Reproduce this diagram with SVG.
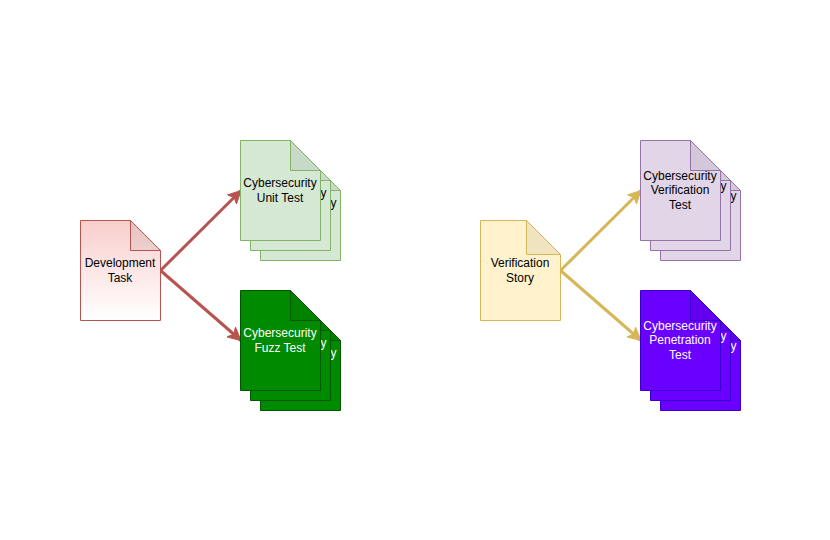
<svg xmlns="http://www.w3.org/2000/svg" width="830" height="540" viewBox="0 0 830 540">
<style>
text{font-family:"Liberation Sans",Arial,Helvetica,sans-serif;font-size:12px;text-anchor:middle;fill:#000}
.w text,text.w{fill:#fff}
.g path{fill:#d5e8d4;stroke:#82b366}
.d path{fill:#008a00;stroke:#005700}
.p path{fill:#e1d5e7;stroke:#9673a6}
.v path{fill:#6a00ff;stroke:#3700cc}
.g path.fold,.d path.fold,.p path.fold,.v path.fold{fill:#000;fill-opacity:.06}
.c{fill:none;stroke-width:3}
</style>
<defs>
<linearGradient id="gr" x1="0" y1="0" x2="0" y2="1"><stop offset="0" stop-color="#f8cecc"/><stop offset="1" stop-color="#ffffff"/></linearGradient>
<marker id="ar" viewBox="0 0 14 14" refX="13" refY="7" markerWidth="14" markerHeight="14" markerUnits="userSpaceOnUse" orient="auto"><path d="M0 0.500L13 7L0 13.500L3.500 7Z" fill="#b85450" stroke="#b85450"/></marker>
<marker id="ay" viewBox="0 0 14 14" refX="13" refY="7" markerWidth="14" markerHeight="14" markerUnits="userSpaceOnUse" orient="auto"><path d="M0 0.500L13 7L0 13.500L3.500 7Z" fill="#d6b656" stroke="#d6b656"/></marker>
</defs>
<g id="connectors">
<path class="c" stroke="#b85450" marker-end="url(#ar)" d="M160.500 270.500L241 190.500"/>
<path class="c" stroke="#b85450" marker-end="url(#ar)" d="M160.500 270.500L241 340.500"/>
<path class="c" stroke="#d6b656" marker-end="url(#ay)" d="M560.500 270.500L641 190.500"/>
<path class="c" stroke="#d6b656" marker-end="url(#ay)" d="M560.500 270.500L641 340.500"/>
</g>
<g id="development-task">
<path d="M80.500 220.500H130.500L160.500 250.500V320.500H80.500Z" fill="url(#gr)" stroke="#b85450"/>
<path d="M130.500 220.500V250.500H160.500Z" fill="#000" fill-opacity=".06" stroke="#b85450"/>
<text x="120" y="267">Development</text><text x="120" y="282">Task</text>
</g>
<g id="verification-story">
<path d="M480.500 220.500H526.500L560.500 254.500V320.500H480.500Z" fill="#fff2cc" stroke="#d6b656"/>
<path d="M526.500 220.500V254.500H560.500Z" fill="#000" fill-opacity=".06" stroke="#d6b656"/>
<text x="520" y="267">Verification</text><text x="520" y="282">Story</text>
</g>
<g id="unit-test" class="g">
<path d="M260.500 160.500H310.500L340.500 190.500V260.500H260.500Z"/><path class="fold" d="M310.500 160.500V190.500H340.500Z"/>
<text x="333.500" y="207">y</text>
<path d="M250.500 150.500H300.500L330.500 180.500V250.500H250.500Z"/><path class="fold" d="M300.500 150.500V180.500H330.500Z"/>
<text x="323.500" y="197">y</text>
<path d="M240.500 140.500H290.500L320.500 170.500V240.500H240.500Z"/><path class="fold" d="M290.500 140.500V170.500H320.500Z"/>
<text x="280" y="187">Cybersecurity</text><text x="280" y="202">Unit Test</text>
</g>
<g id="fuzz-test" class="d w">
<path d="M260.500 310.500H310.500L340.500 340.500V410.500H260.500Z"/><path class="fold" d="M310.500 310.500V340.500H340.500Z"/>
<text x="333.500" y="357">y</text>
<path d="M250.500 300.500H300.500L330.500 330.500V400.500H250.500Z"/><path class="fold" d="M300.500 300.500V330.500H330.500Z"/>
<text x="323.500" y="347">y</text>
<path d="M240.500 290.500H290.500L320.500 320.500V390.500H240.500Z"/><path class="fold" d="M290.500 290.500V320.500H320.500Z"/>
<text x="280" y="337">Cybersecurity</text><text x="280" y="352">Fuzz Test</text>
</g>
<g id="verification-test" class="p">
<path d="M660.500 160.500H710.500L740.500 190.500V260.500H660.500Z"/><path class="fold" d="M710.500 160.500V190.500H740.500Z"/>
<text x="733.500" y="200">y</text>
<path d="M650.500 150.500H700.500L730.500 180.500V250.500H650.500Z"/><path class="fold" d="M700.500 150.500V180.500H730.500Z"/>
<text x="723.500" y="190">y</text>
<path d="M640.500 140.500H690.500L720.500 170.500V240.500H640.500Z"/><path class="fold" d="M690.500 140.500V170.500H720.500Z"/>
<text x="680" y="180">Cybersecurity</text><text x="680" y="194">Verification</text><text x="680" y="209">Test</text>
</g>
<g id="penetration-test" class="v w">
<path d="M660.500 310.500H710.500L740.500 340.500V410.500H660.500Z"/><path class="fold" d="M710.500 310.500V340.500H740.500Z"/>
<text x="733.500" y="350">y</text>
<path d="M650.500 300.500H700.500L730.500 330.500V400.500H650.500Z"/><path class="fold" d="M700.500 300.500V330.500H730.500Z"/>
<text x="723.500" y="340">y</text>
<path d="M640.500 290.500H690.500L720.500 320.500V390.500H640.500Z"/><path class="fold" d="M690.500 290.500V320.500H720.500Z"/>
<text x="680" y="330">Cybersecurity</text><text x="680" y="344">Penetration</text><text x="680" y="359">Test</text>
</g>
</svg>
